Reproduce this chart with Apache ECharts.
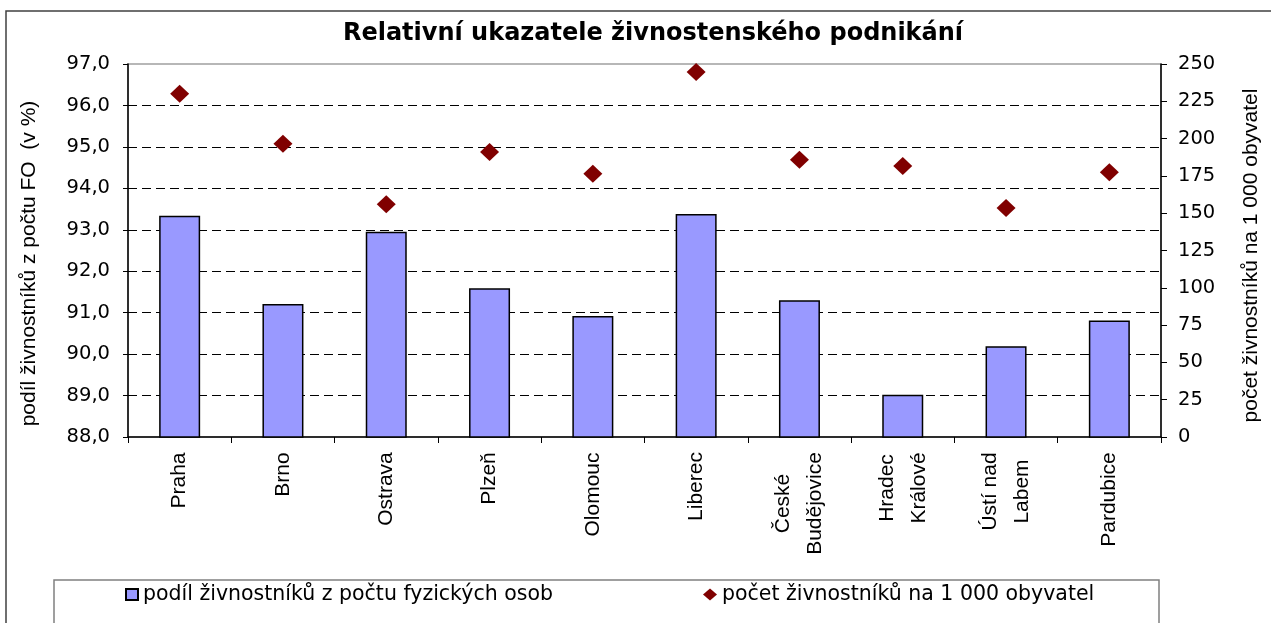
<!DOCTYPE html>
<html>
<head>
<meta charset="utf-8">
<script src="https://cdn.jsdelivr.net/npm/echarts@6/dist/echarts.min.js"></script>
<style>
html, body { margin: 0; padding: 0; background: #fff; }
#chart { width: 1271px; height: 623px; }
</style>
</head>
<body>
<div id="chart"></div>
<script>
var mesta = ['Praha', 'Brno', 'Ostrava', 'Plzeň', 'Olomouc', 'Liberec',
	'České\nBudějovice', 'Hradec\nKrálové', 'Ústí nad\nLabem', 'Pardubice'];
// podíl živnostníků z počtu fyzických osob (v %)
var podil = [93.34, 91.21, 92.95, 91.59, 90.92, 93.38, 91.30, 89.02, 90.19, 90.81];
// počet živnostníků na 1 000 obyvatel
var pocet = [230.1, 196.5, 156.0, 191.1, 176.4, 244.6, 185.8, 181.7, 153.5, 177.5];

var nazevPodil = 'podíl živnostníků z počtu fyzických osob';
var nazevPocet = 'počet živnostníků na 1 000 obyvatel';

var arial = "'Liberation Sans', Arial, sans-serif";
var siroky = "'DejaVu Sans', sans-serif";

// víceřádkové popisky: řádky centrované v bloku, blok zarovnaný k ose
var ctx = document.createElement('canvas').getContext('2d');
ctx.font = "21px " + arial;
var rich = {};
mesta.forEach(function (m, i) {
	var w = 0;
	m.split('\n').forEach(function (r) { w = Math.max(w, ctx.measureText(r).width); });
	rich['r' + i] = { width: Math.ceil(w), align: 'center', fontFamily: arial, fontSize: 21, lineHeight: 32, color: '#000' };
});

var myChart = echarts.init(document.getElementById('chart'));

var option = {
	backgroundColor: '#fff',
	animation: false,
	textStyle: { fontFamily: arial },
	title: {
		text: 'Relativní ukazatele živnostenského podnikání',
		left: 648,
		textAlign: 'center',
		top: 17,
		textStyle: {
			fontFamily: siroky,
			fontWeight: 'bold',
			fontSize: 24,
			color: '#000'
		}
	},
	graphic: [{
		type: 'rect',
		shape: { x: 6, y: 11, width: 1400, height: 800 },
		style: { fill: 'none', stroke: '#404040', lineWidth: 1.5 },
		silent: true
	}, {
		type: 'rect',
		shape: { x: 54, y: 580, width: 1105, height: 100 },
		style: { fill: 'none', stroke: '#808080', lineWidth: 1.5 },
		silent: true
	}],
	legend: [{
		left: 125,
		top: 584,
		padding: 0,
		itemWidth: 12,
		itemHeight: 11,
		textStyle: { fontFamily: siroky, fontSize: 20.5, color: '#000' },
		data: [{ name: nazevPodil, icon: 'rect' }]
	}, {
		left: 703,
		top: 584,
		padding: 0,
		itemWidth: 14,
		itemHeight: 12,
		textStyle: { fontFamily: siroky, fontSize: 20.5, color: '#000' },
		data: [{ name: nazevPocet, icon: 'diamond' }]
	}],
	grid: {
		left: 128,
		right: 110,
		top: 64,
		bottom: 186,
		show: true,
		borderColor: '#a0a0a0',
		borderWidth: 1.5,
		outerBoundsMode: 'none'
	},
	xAxis: [{
		type: 'category',
		data: mesta,
		axisLine: { lineStyle: { color: '#000', width: 1.5 } },
		axisTick: { show: true, length: 6, lineStyle: { color: '#000' } },
		axisLabel: {
			interval: 0,
			rotate: 90,
			margin: 15,
			fontFamily: arial,
			fontSize: 21,
			lineHeight: 32,
			color: '#000',
			rich: rich,
			formatter: function (v, i) {
				return v.split('\n').map(function (r) { return '{r' + i + '|' + r + '}'; }).join('\n');
			}
		}
	}],
	yAxis: [{
		type: 'value',
		min: 88,
		max: 97,
		interval: 1,
		name: 'podíl živnostníků z počtu FO  (v %)',
		nameLocation: 'middle',
		nameGap: 88,
		nameMoveOverlap: false,
		nameTextStyle: { fontFamily: arial, fontSize: 21, color: '#000', padding: [0, 26, 0, 0] },
		axisLine: { show: true, lineStyle: { color: '#000', width: 1.5 } },
		axisTick: { show: true, length: 5, lineStyle: { color: '#000' } },
		axisLabel: {
			margin: 18,
			fontFamily: siroky,
			fontSize: 19.5,
			color: '#000',
			padding: [8, 0, 0, 0],
			formatter: function (v) { return v.toFixed(1).replace('.', ','); }
		},
		splitLine: {
			show: true,
			showMinLine: false,
			showMaxLine: false,
			lineStyle: { color: '#000', width: 1, type: [9, 5] }
		}
	}, {
		type: 'value',
		min: 0,
		max: 250,
		interval: 25,
		position: 'right',
		name: 'počet živnostníků na 1 000 obyvatel',
		nameLocation: 'middle',
		nameGap: 80,
		nameRotate: 90,
		nameMoveOverlap: false,
		nameTextStyle: { fontFamily: arial, fontSize: 21, color: '#000', padding: [0, 10, 0, 0] },
		axisLine: { show: true, lineStyle: { color: '#000', width: 1.5 } },
		axisTick: { show: true, length: 6, lineStyle: { color: '#000' } },
		axisLabel: {
			margin: 17,
			fontFamily: siroky,
			fontSize: 19.5,
			color: '#000'
		},
		splitLine: { show: false }
	}],
	series: [{
		name: nazevPodil,
		type: 'bar',
		yAxisIndex: 0,
		barWidth: 41,
		itemStyle: {
			color: '#9999ff',
			borderColor: '#000',
			borderWidth: 1.5
		},
		data: podil
	}, {
		name: nazevPocet,
		type: 'scatter',
		yAxisIndex: 1,
		symbol: 'diamond',
		symbolSize: [19, 18],
		itemStyle: { color: '#800000', opacity: 1 },
		data: pocet
	}]
};
myChart.setOption(option);
</script>
</body>
</html>
